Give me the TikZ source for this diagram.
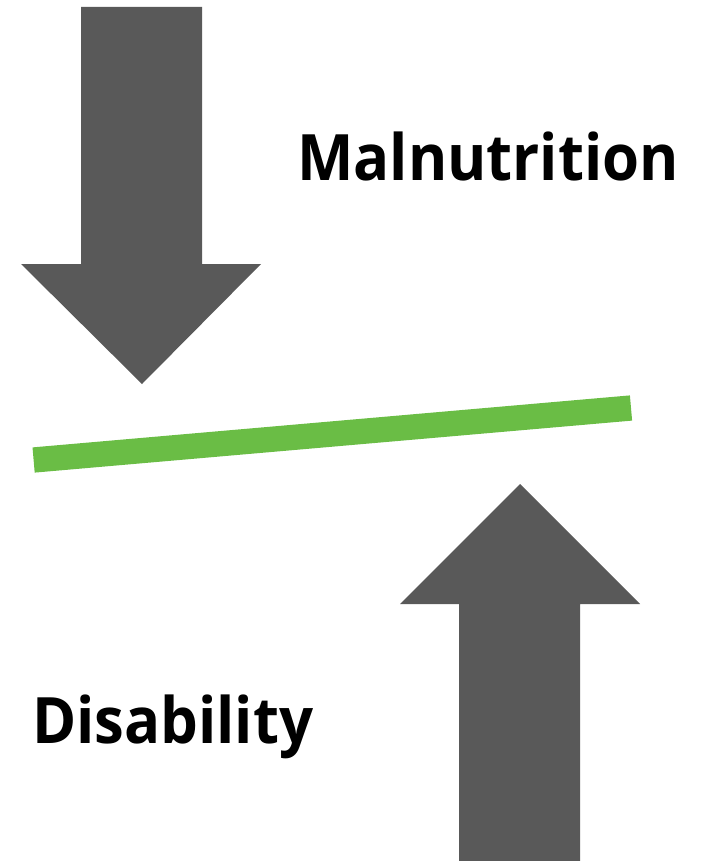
\documentclass[tikz,border=0pt]{standalone}
\usepackage{fontspec}
\setmainfont[FakeStretch=0.935]{Open Sans}
\definecolor{arrowgray}{RGB}{89,89,89}
\definecolor{bargreen}{RGB}{106,189,69}
\tikzset{
  block-arrow/.style={fill=arrowgray, draw=none},
  balance-bar/.style={draw=bargreen, line width=25.3pt, line cap=butt},
  big-label/.style={font=\bfseries\fontsize{64}{64}\selectfont, inner sep=0pt, anchor=base west}
}

\begin{document}
\begin{tikzpicture}[x=1pt,y=-1pt]
  \useasboundingbox (0,0) rectangle (705,861);

  % Pressure from above
  \fill[block-arrow] (81,7) -- (202,7) -- (202,264) -- (261,264)
    -- (142,384) -- (21,264) -- (81,264) -- cycle;

  % Push from below
  \fill[block-arrow] (459,861) -- (580,861) -- (580,604) -- (640,604)
    -- (520,484) -- (400,604) -- (459,604) -- cycle;

  % The tilted bar in between
  \coordinate (bar-left) at (33.6,460);
  \coordinate (bar-right) at (631,408);
  \draw[balance-bar] (bar-left) -- (bar-right);

  % Labels
  \node[big-label] (malnutrition) at (297,180.7) {Malnutrition};
  \node[big-label] (disability) at (32,743.3) {Disability};
\end{tikzpicture}
\end{document}
